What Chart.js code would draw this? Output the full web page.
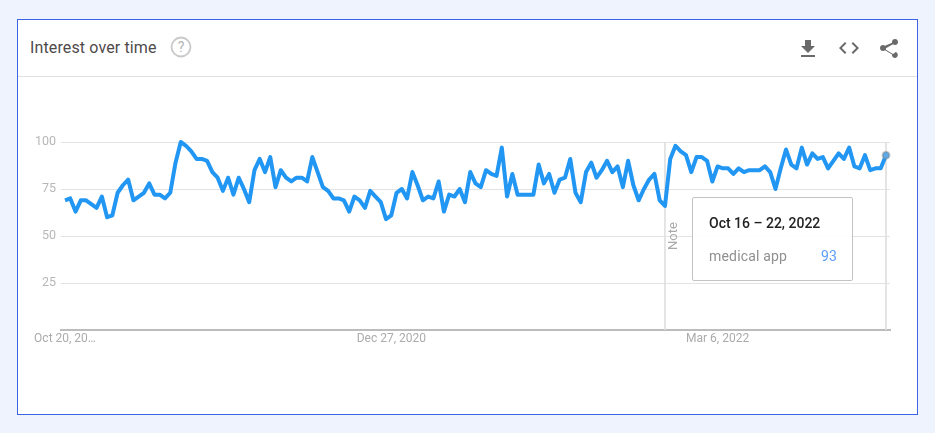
<!DOCTYPE html>
<html>
<head>
<meta charset="utf-8">
<style>
html,body{margin:0;padding:0;width:935px;height:433px;overflow:hidden;background:#eff3fd;font-family:Roboto,sans-serif}
#card{position:absolute;left:17px;top:19px;width:899px;height:394px;background:#fff;border:1px solid #3b63e3}
#divider{position:absolute;left:18px;top:76px;width:899px;height:1px;background:#e0e0e0}
#title{position:absolute;left:30px;top:38px;font-size:16px;line-height:20px;letter-spacing:.13px;color:#4f4a4a}
#chartBox{position:absolute;left:0;top:0;width:935px;height:433px}
svg.icon{position:absolute;fill:#6a6a6a}
#tip{position:absolute;left:692px;top:197px;width:159px;height:82px;background:rgba(255,255,255,.92);border:1px solid #c4c4c4;border-radius:2px;box-shadow:0 0 1px rgba(0,0,0,.1)}
#tipDate{position:absolute;left:16px;top:15px;font-size:14px;font-weight:500;line-height:20px;color:#222;white-space:nowrap}
#tipName{position:absolute;left:16px;top:49px;font-size:14px;letter-spacing:.18px;line-height:18px;color:#8f8f8f;white-space:nowrap}
#tipVal{position:absolute;right:15px;top:49px;font-size:14px;letter-spacing:.18px;line-height:18px;color:#5c9df5}
</style>
</head>
<body>
<div id="card"></div>
<div id="divider"></div>
<div id="title">Interest over time</div>
<svg class="icon" style="left:169px;top:36px;fill:none" width="24" height="24" viewBox="0 0 24 24">
  <circle cx="12" cy="11" r="9.5" stroke="#c9c9c9" stroke-width="1.8" fill="none"/>
  <text x="12" y="16" text-anchor="middle" font-family="Roboto" font-size="14" fill="#b5b5b5">?</text>
</svg>
<svg class="icon" style="left:796px;top:37px" width="24" height="24" viewBox="0 0 24 24"><path d="M19 9h-4V3H9v6H5l7 7 7-7zM5 18v2h14v-2H5z"/></svg>
<svg class="icon" style="left:837px;top:36px" width="24" height="24" viewBox="0 0 24 24"><path d="M9.4 16.6 4.8 12l4.600-4.600L8 6l-6 6 6 6 1.400-1.400zm5.200 0 4.600-4.600-4.600-4.600L16 6l6 6-6 6-1.400-1.400z"/></svg>
<svg class="icon" style="left:877px;top:36px" width="24" height="24" viewBox="0 0 24 24"><path d="M18 16.1c-.8 0-1.4.3-2 .8l-7.1-4.2c.1-.2.1-.5.1-.7s0-.5-.1-.7L16 7.200c.5.5 1.200.8 2 .8 1.700 0 3-1.300 3-3s-1.300-3-3-3-3 1.300-3 3c0 .2 0 .5.1.7L8 8.800C7.500 8.300 6.800 8 6 8c-1.700 0-3 1.300-3 3s1.300 3 3 3c.8 0 1.500-.3 2-.8l7.100 4.200c-.1.200-.1.400-.1.600 0 1.600 1.300 2.900 2.900 2.900s2.900-1.300 2.900-2.900-1.200-2.900-2.900-2.900z" transform="translate(0 1)"/></svg>
<div id="chartBox"><canvas id="c" width="935" height="433"></canvas></div>
<div id="tip"><div id="tipDate"></div><div id="tipName"></div><div id="tipVal"></div></div>
<script src="https://cdn.jsdelivr.net/npm/chart.js@4"></script>
<script>
const seriesName = "medical app";
const values = [
 69,70,63,69,69,67,65,71,60,61,73,77,80,69,71,73,78,72,72,70,
 73,89,100,98,95,91,91,90,84,81,74,81,72,81,75,68,85,91,84,92,
 76,85,81,79,81,81,79,92,84,76,74,70,70,69,63,71,69,65,74,71,
 68,59,61,73,75,70,84,77,69,71,70,79,63,72,71,75,68,84,78,76,
 85,83,82,97,71,83,72,72,72,72,88,78,83,73,80,81,91,73,68,84,
 89,81,85,90,84,87,76,90,77,69,75,80,83,69,66,91,98,95,93,84,
 92,92,90,79,87,86,86,83,86,84,85,85,85,87,84,75,86,96,88,86,
 97,88,94,91,92,86,90,94,91,97,87,86,93,85,86,86,93
];
const tickIndexes = [0, 62, 124];
const tickLabels = ["Oct 20, 20…", "Dec 27, 2020", "Mar 6, 2022"];
const yTicks = [0, 25, 50, 75, 100];
const noteIndex = 114;
const noteLabel = "Note";
const hoverIndex = 156;
const hoverDate = "Oct 16 – 22, 2022";

document.getElementById('tipDate').textContent = hoverDate;
document.getElementById('tipName').textContent = seriesName;
document.getElementById('tipVal').textContent = values[hoverIndex];

const markers = {
  id: 'markers',
  beforeDatasetsDraw(chart) {
    const {ctx, scales: {x, y}} = chart;
    ctx.save();
    ctx.strokeStyle = '#dedede';
    ctx.lineWidth = 1.6;
    for (const i of [noteIndex, hoverIndex]) {
      const px = x.getPixelForValue(i);
      ctx.beginPath();
      ctx.moveTo(px, y.getPixelForValue(100));
      ctx.lineTo(px, y.getPixelForValue(0));
      ctx.stroke();
    }
    const nx = x.getPixelForValue(noteIndex) + 9;
    ctx.translate(nx, y.getPixelForValue(50));
    ctx.rotate(-Math.PI / 2);
    ctx.fillStyle = '#a9a9a9';
    ctx.font = '13px Roboto';
    ctx.textAlign = 'center';
    ctx.textBaseline = 'middle';
    ctx.fillText(noteLabel, 0, 0);
    ctx.restore();
  }
};

new Chart(document.getElementById('c'), {
  type: 'line',
  data: {
    datasets: [{
      label: seriesName,
      data: values.map((v, i) => ({x: i, y: v})),
      borderColor: '#2196f3',
      borderWidth: 4,
      borderJoinStyle: 'round',
      tension: 0,
      clip: false,
      pointRadius: ctx => ctx.dataIndex === hoverIndex ? 3.5 : 0,
      pointBackgroundColor: '#5fa9e6',
      pointBorderColor: 'rgba(130,130,130,.4)',
      pointBorderWidth: 2
    }]
  },
  plugins: [markers],
  options: {
    responsive: false,
    animation: false,
    events: [],
    layout: {padding: {top: 142, right: 45, left: 0, bottom: 0}},
    plugins: {legend: {display: false}, tooltip: {enabled: false}},
    scales: {
      x: {
        type: 'linear',
        min: -0.76,
        max: 156.76,
        afterFit(s) { s.height = 103; },
        afterBuildTicks(s) { s.ticks = tickIndexes.map(v => ({value: v})); },
        grid: {display: false, drawTicks: false},
        border: {color: '#bcbcbc', width: 2},
        ticks: {
          autoSkip: false,
          maxRotation: 0,
          padding: 2,
          color: '#ababab',
          font: {family: 'Roboto', size: 12},
          callback: v => tickLabels[tickIndexes.indexOf(v)]
        }
      },
      y: {
        min: 0,
        max: 100,
        afterFit(s) { s.width = 61; },
        afterBuildTicks(s) { s.ticks = yTicks.map(v => ({value: v})); },
        grid: {color: ctx => ctx.tick.value === 0 ? 'rgba(0,0,0,0)' : '#e3e3e3', drawTicks: false},
        border: {display: false},
        ticks: {
          padding: 5,
          color: '#b7b7b7',
          font: {family: 'Roboto', size: 12.5},
          callback: v => v === 0 ? '' : String(v)
        }
      }
    }
  }
});
</script>
</body>
</html>
